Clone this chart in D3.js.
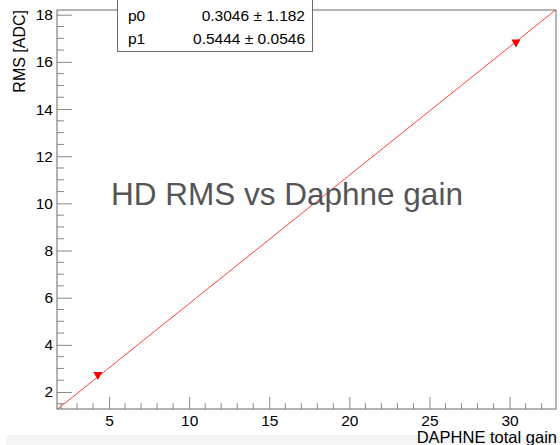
<!DOCTYPE html>
<html>
<head>
<meta charset="utf-8">
<script src="https://cdn.jsdelivr.net/npm/d3@7"></script>
<style>
  body { margin: 0; background: #fff; }
  svg { display: block; font-family: 'Liberation Sans', Arial, Helvetica, sans-serif; }
</style>
</head>
<body>
<svg id="chart" width="560" height="445"></svg>
<script>
// measured points (DAPHNE total gain, RMS [ADC])
const gain = [4.3, 30.4];
const rms = [2.7, 16.8];

// fit result pol1: p0 + p1 * x
const parNames = ['p0', 'p1'];
const parValues = ['0.3046', '0.5444'];
const parErrors = ['1.182', '0.0546'];
const p0 = 0.3046;
const p1 = 0.5444;

const xDomain = [1.75, 32.9];
const yDomain = [1.28, 18.2];
const xMajor = [5, 10, 15, 20, 25, 30];
const yMajor = [2, 4, 6, 8, 10, 12, 14, 16, 18];

const svg = d3.select('#chart');
const frame = { left: 57, right: 556, top: 10, bottom: 409 };

const x = d3.scaleLinear().domain(xDomain).range([frame.left, frame.right]);
const y = d3.scaleLinear().domain(yDomain).range([frame.bottom, frame.top]);

// faint strip at the very bottom of the canvas
svg.append('rect')
  .attr('x', 6).attr('y', 435)
  .attr('width', 554).attr('height', 10)
  .attr('fill', '#f5f5f5');

const tickColor = '#8a8a8a';
const labelFont = 'Liberation Sans, Arial, sans-serif';

// x axis ticks
const xMinor = d3.range(2, 33, 1).filter(d => xMajor.indexOf(d) === -1);
svg.append('g').selectAll('line')
  .data(xMinor)
  .enter().append('line')
    .attr('x1', d => x(d)).attr('x2', d => x(d))
    .attr('y1', frame.bottom).attr('y2', frame.bottom - 6)
    .attr('stroke', tickColor);

const xAxis = d3.axisBottom(x)
  .tickValues(xMajor)
  .tickSize(-12)
  .tickPadding(0)
  .tickFormat(d3.format('d'));

const gx = svg.append('g')
  .attr('transform', `translate(0,${frame.bottom})`)
  .call(xAxis);
gx.select('.domain').remove();
gx.selectAll('.tick line').attr('stroke', tickColor);
gx.selectAll('.tick text')
  .attr('y', 16.5)
  .attr('dy', 0)
  .attr('fill', '#000')
  .attr('font-size', 15.5)
  .attr('font-family', labelFont);

// y axis ticks
const yMinor = d3.range(1.5, 18.01, 0.5).filter(d => yMajor.indexOf(d) === -1);
svg.append('g').selectAll('line')
  .data(yMinor)
  .enter().append('line')
    .attr('x1', frame.left).attr('x2', frame.left + 7)
    .attr('y1', d => y(d)).attr('y2', d => y(d))
    .attr('stroke', tickColor);

const yAxis = d3.axisLeft(y)
  .tickValues(yMajor)
  .tickSize(-15)
  .tickPadding(4)
  .tickFormat(d3.format('d'));

const gy = svg.append('g')
  .attr('transform', `translate(${frame.left},0)`)
  .call(yAxis);
gy.select('.domain').remove();
gy.selectAll('.tick line').attr('stroke', tickColor);
gy.selectAll('.tick text')
  .attr('x', -4)
  .attr('fill', '#000')
  .attr('font-size', 15.5)
  .attr('font-family', labelFont);

// fit line, clipped to frame
svg.append('clipPath').attr('id', 'frame-clip')
  .append('rect')
    .attr('x', frame.left).attr('y', frame.top)
    .attr('width', frame.right - frame.left)
    .attr('height', frame.bottom - frame.top);

const fitLine = d3.line()
  .x(d => x(d))
  .y(d => y(p0 + p1 * d));

svg.append('path')
  .attr('clip-path', 'url(#frame-clip)')
  .attr('d', fitLine(xDomain))
  .attr('fill', 'none')
  .attr('stroke', '#ff4040')
  .attr('stroke-width', 1);

// markers (down triangles)
const points = gain.map((g, i) => ({ g, r: rms[i] }));
svg.append('g').selectAll('path')
  .data(points)
  .enter().append('path')
    .attr('d', 'M-4.5,-3.5L4.5,-3.5L0,4.5Z')
    .attr('transform', d => `translate(${x(d.g)},${y(d.r)})`)
    .attr('fill', '#ff0000');

// frame
svg.append('rect')
  .attr('x', frame.left).attr('y', frame.top)
  .attr('width', frame.right - frame.left)
  .attr('height', frame.bottom - frame.top)
  .attr('fill', 'none')
  .attr('stroke', '#6a6a6a')
  .attr('stroke-width', 1);

// stats box
const box = svg.append('g');
box.append('rect')
  .attr('x', 117.5).attr('y', -2)
  .attr('width', 195).attr('height', 53.5)
  .attr('fill', '#fff')
  .attr('stroke', '#6a6a6a');

const rows = box.selectAll('g.row')
  .data(parNames)
  .enter().append('g')
    .attr('class', 'row')
    .attr('transform', (d, i) => `translate(0,${21 + i * 23})`);

rows.append('text')
  .attr('x', 128)
  .attr('font-size', 15.5)
  .text(d => d);

rows.append('text')
  .attr('x', 305)
  .attr('text-anchor', 'end')
  .attr('font-size', 15.5)
  .text((d, i) => `${parValues[i]} \u00b1 ${parErrors[i]}`);

// axis titles
svg.append('text')
  .attr('transform', `translate(25,${frame.top}) rotate(-90)`)
  .attr('text-anchor', 'end')
  .attr('font-size', 16)
  .text('RMS [ADC]');

svg.append('text')
  .attr('x', frame.right + 1)
  .attr('y', 443)
  .attr('text-anchor', 'end')
  .attr('font-size', 16.5)
  .text('DAPHNE total gain');

// overlay title
svg.append('text')
  .attr('x', 111)
  .attr('y', 205)
  .attr('font-size', 31.5)
  .attr('fill', '#555')
  .text('HD RMS vs Daphne gain');
</script>
</body>
</html>
